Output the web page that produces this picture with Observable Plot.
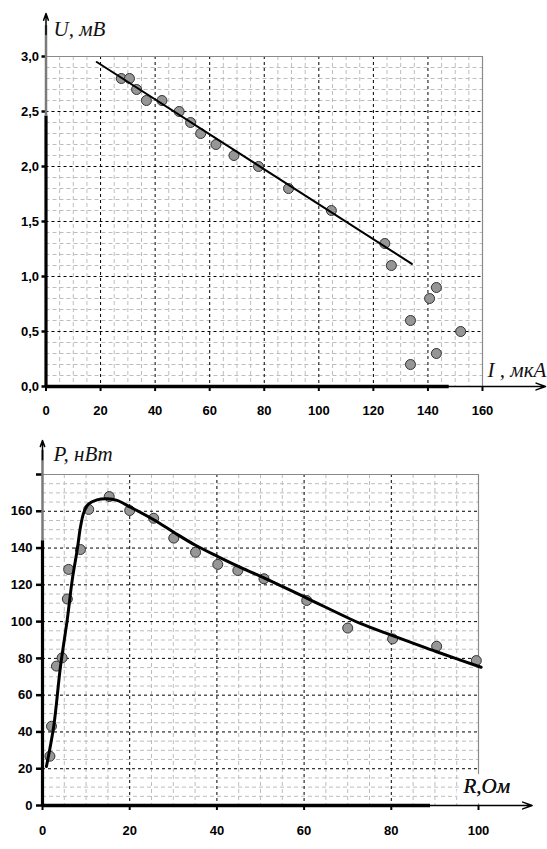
<!DOCTYPE html>
<html><head><meta charset="utf-8">
<script src="https://cdn.jsdelivr.net/npm/d3@7"></script>
<script src="https://cdn.jsdelivr.net/npm/@observablehq/plot@0.6"></script>
<style>
body{margin:0;background:#fff;}
#chart{width:547px;}
#chart svg{display:block;}
</style></head><body><div id="chart"></div>
<script>
// ---- Top chart: U(I) ----
const currentI = [27.6, 30.6, 33.2, 36.8, 42.5, 48.8, 53.0, 56.7, 62.3, 68.9, 77.9, 88.9, 104.6, 124.2, 126.6, 143.1, 140.6, 133.6, 152.0, 143.1, 133.6];
const voltageU = [2.8, 2.8, 2.7, 2.6, 2.6, 2.5, 2.4, 2.3, 2.2, 2.1, 2.0, 1.8, 1.6, 1.3, 1.1, 0.9, 0.8, 0.6, 0.5, 0.3, 0.2];
const fitI = [18.6, 134.1];
const fitU = [2.95, 1.115];
const topXTicks = [0, 20, 40, 60, 80, 100, 120, 140, 160];
const topYTicks = [0, 0.5, 1.0, 1.5, 2.0, 2.5, 3.0];

// ---- Bottom chart: P(R) ----
const resistR = [1.7, 2.06, 3.2, 4.5, 5.7, 6.0, 8.7, 10.6, 15.3, 20.0, 25.5, 30.1, 35.1, 40.2, 44.8, 50.8, 60.6, 70.0, 80.3, 90.4, 99.5];
const powerP = [26.8, 43.1, 75.8, 80.3, 112.3, 128.4, 139.2, 161, 168, 160.4, 156.2, 145.4, 137.7, 131.1, 127.8, 123.3, 111.5, 96.5, 90.6, 86.6, 78.8];
const curveR = [0.9, 2.6, 4.1, 5.7, 6.8, 8.0, 8.7, 9.5, 10.6, 12.5, 14.8, 17.1, 20.2, 25.5, 30.1, 35.1, 40.1, 45.4, 50.8, 60.6, 72.9, 80.3, 90.4, 100.6];
const curveP = [21.2, 43.5, 75.2, 101.5, 122.3, 139.6, 151.3, 159.5, 164, 166.2, 166.8, 165.9, 162.2, 155.4, 148.6, 141.5, 135.5, 129.5, 123.8, 112.8, 99, 92.4, 83.6, 75.2];
const botXTicks = [0, 20, 40, 60, 80, 100];
const botYTicks = [0, 20, 40, 60, 80, 100, 120, 140, 160, 180];

const topPts = currentI.map((v, i) => ({I: v, U: voltageU[i]}));
const topFit = fitI.map((v, i) => ({I: v, U: fitU[i]}));
const botPts = resistR.map((v, i) => ({R: v, P: powerP[i]}));
const botCurve = curveR.map((v, i) => ({R: v, P: curveP[i]}));

const MINOR = {stroke: "#bdbdbd", strokeDasharray: "4,3", strokeWidth: 1};
const MAJOR = {stroke: "#000", strokeDasharray: "3,3", strokeWidth: 1};
const BORDER = {stroke: "#8a8a8a", strokeWidth: 1.2};
const TITLE = {fontFamily: "Liberation Serif, 'Times New Roman', serif", fontStyle: "italic", fontSize: 21, fill: "#111", textAnchor: "start", lineAnchor: "bottom", text: d => d};
const TICKFONT = {fontFamily: "Liberation Sans, Arial, sans-serif", fontWeight: "bold", fontSize: 13, fill: "#000"};
const comma = d => d.toFixed(1).replace(".", ",");

const near = (a, b) => Math.abs(a - b) < 1e-6;
function minorTicks(max, step, majorStep) {
  return d3.range(0, max + step / 2, step).filter(v => !near(v / majorStep, Math.round(v / majorStep)));
}

// ---- Top plot ----
const topChart = Plot.plot({
  width: 547, height: 425,
  marginLeft: 45.5, marginRight: 65, marginTop: 56, marginBottom: 39,
  style: {background: "white", overflow: "visible"},
  x: {domain: [0, 160]},
  y: {domain: [0, 3]},
  marks: [
    Plot.ruleX(minorTicks(160, 5, 20), MINOR),
    Plot.ruleY(minorTicks(3, 0.1, 0.5), MINOR),
    Plot.ruleX(topXTicks.filter(d => d > 0 && d < 160), MAJOR),
    Plot.ruleY(topYTicks.filter(d => d > 0 && d < 3), MAJOR),
    Plot.ruleY([3], BORDER),
    Plot.ruleX([160], BORDER),
    Plot.axisX(topXTicks, {tickSize: 5, tickPadding: 14, strokeWidth: 2, label: null, tickFormat: d => d, ...TICKFONT}),
    Plot.axisY(topYTicks, {tickSize: 4, tickPadding: 3, strokeWidth: 2.5, label: null, tickFormat: comma, ...TICKFONT}),
    Plot.ruleY([0], {x1: 0, x2: 147.8, strokeWidth: 3.5, stroke: "#000"}),
    Plot.arrow([0], {x1: 140, x2: 183.1, y1: 0, y2: 0, strokeWidth: 1.5, headLength: 10, headAngle: 40, stroke: "#000"}),
    Plot.ruleX([0], {y1: 0, y2: 2.46, strokeWidth: 3.2, stroke: "#000"}),
    Plot.ruleX([0], {y1: 2.46, y2: 3.28, strokeWidth: 2.5, stroke: "#7a7a7a"}),
    Plot.arrow([0], {x1: 0, x2: 0, y1: 3.2, y2: 3.39, strokeWidth: 1.5, headLength: 10, headAngle: 40, stroke: "#000"}),
    Plot.dot(topPts, {x: "I", y: "U", r: 5, fill: "#969696", stroke: "#333", strokeWidth: 1}),
    Plot.line(topFit, {x: "I", y: "U", stroke: "#000", strokeWidth: 2}),
    Plot.text(["U, мВ"], {frameAnchor: "top-left", dx: 7.5, dy: -21, ...TITLE}),
    Plot.text(["I , мкА"], {frameAnchor: "bottom-right", dx: 5, dy: -9.3, ...TITLE})
  ]
});

// ---- Bottom plot ----
const botChart = Plot.plot({
  width: 547, height: 424,
  marginLeft: 42, marginRight: 69, marginTop: 49, marginBottom: 44,
  style: {background: "white", overflow: "visible"},
  x: {domain: [0, 100]},
  y: {domain: [0, 180]},
  marks: [
    Plot.ruleX(minorTicks(100, 5, 20), MINOR),
    Plot.ruleY(minorTicks(180, 5, 20), MINOR),
    Plot.ruleX(botXTicks.filter(d => d > 0 && d < 100), MAJOR),
    Plot.ruleY(botYTicks.filter(d => d > 0 && d < 180), MAJOR),
    Plot.ruleY([180], BORDER),
    Plot.ruleX([100], BORDER),
    Plot.text(["R,Ом"], {frameAnchor: "bottom-right", dx: -15, dy: -12.3, ...TITLE, stroke: "white", strokeWidth: 14}),
    Plot.axisX(botXTicks, {tickSize: 5, tickPadding: 15, strokeWidth: 2, label: null, tickFormat: d => d, ...TICKFONT}),
    Plot.axisY(botYTicks, {tickSize: 6, tickPadding: 4, strokeWidth: 2.5, label: null, tickFormat: d => d === 180 ? "" : d, ...TICKFONT}),
    Plot.ruleY([0], {x1: 0, x2: 89, strokeWidth: 3.5, stroke: "#000"}),
    Plot.arrow([0], {x1: 85, x2: 112.3, y1: 0, y2: 0, strokeWidth: 1.5, headLength: 10, headAngle: 40, stroke: "#000"}),
    Plot.ruleX([0], {y1: 0, y2: 144, strokeWidth: 3.2, stroke: "#000"}),
    Plot.ruleX([0], {y1: 144, y2: 193, strokeWidth: 2.5, stroke: "#7a7a7a"}),
    Plot.arrow([0], {x1: 0, x2: 0, y1: 188, y2: 198.5, strokeWidth: 1.5, headLength: 10, headAngle: 40, stroke: "#000"}),
    Plot.dot(botPts, {x: "R", y: "P", r: 5, fill: "#969696", stroke: "#333", strokeWidth: 1}),
    Plot.line(botCurve, {x: "R", y: "P", stroke: "#000", strokeWidth: 3, curve: "catmull-rom"}),
    Plot.text(["P, нВт"], {frameAnchor: "top-left", dx: 11, dy: -14, ...TITLE}),
    Plot.text(["R,Ом"], {frameAnchor: "bottom-right", dx: -15, dy: -12.3, ...TITLE})
  ]
});

const root = document.getElementById("chart");
root.appendChild(topChart);
root.appendChild(botChart);
</script>
</body></html>
